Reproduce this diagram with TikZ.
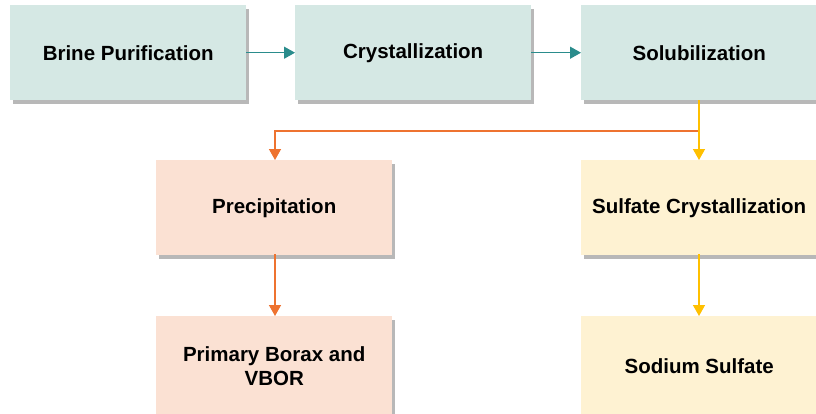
\documentclass[tikz,border=0pt]{standalone}
\usepackage{fontspec}
\setmainfont{Liberation Sans}
\usetikzlibrary{shadows,arrows.meta}
\definecolor{tealfill}{HTML}{D5E8E4}
\definecolor{peachfill}{HTML}{FBE1D3}
\definecolor{yelfill}{HTML}{FEF2D2}
\definecolor{tealline}{HTML}{2A8C8C}
\definecolor{orline}{HTML}{EE7330}
\definecolor{yelline}{HTML}{FFC000}
\begin{document}
\begin{tikzpicture}[x=1pt,y=-1pt,
  box/.style={draw=none, minimum width=236pt, minimum height=95pt, anchor=north west,
    font=\fontsize{20.5}{24}\selectfont\bfseries, align=center, inner sep=0pt,
    drop shadow={shadow xshift=3pt, shadow yshift=-3.5pt, fill=black, opacity=0.28}},
  tbox/.style={box, fill=tealfill},
  pbox/.style={box, fill=peachfill},
  ybox/.style={box, fill=yelfill},
  arr/.style={line width=1.4pt, -{Triangle[length=11pt,width=12pt]}}
]
\useasboundingbox (0,0) rectangle (816,413);
\fill[white] (0,0) rectangle (816,413);
\node[tbox] (brine) at (10,5) {Brine Purification};
\node[tbox] (cryst) at (295,5) {Crystallization};
\node[tbox, minimum width=240pt] (solub) at (581,5) {\hspace*{-4pt}Solubilization};
\node[pbox] (precip) at (156,160) {Precipitation};
\node[ybox, minimum width=240pt] (sulf) at (581,160) {\hspace*{-4pt}Sulfate Crystallization};
\node[pbox, minimum height=100pt] (borax) at (156,316) {Primary Borax and\\VBOR};
\node[ybox, minimum width=240pt, minimum height=100pt] (sodium) at (581,316) {\hspace*{-4pt}Sodium Sulfate};
\coordinate (split) at (699,131);
\coordinate (solbot) at (699,100);
\draw[arr, tealline] (brine.east) -- (cryst.west);
\draw[arr, tealline] (cryst.east) -- (solub.west);
\draw[arr, orline] (split) -- (275,131) -- (275,160);
\draw[arr, yelline] (solbot) -- (699,160);
\draw[arr, orline] (275,254) -- (275,316);
\draw[arr, yelline] (699,254) -- (699,316);
\end{tikzpicture}
\end{document}
